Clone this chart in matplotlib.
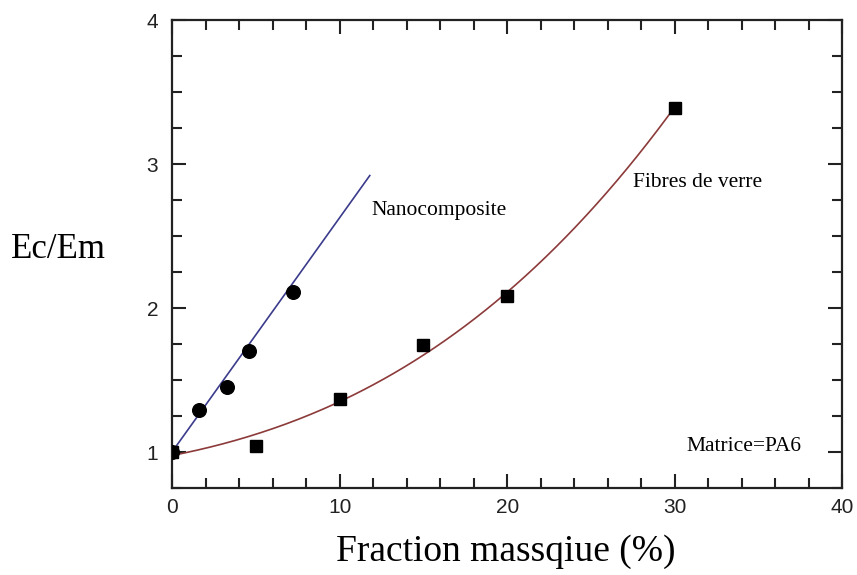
import numpy as np
import matplotlib
matplotlib.use("Agg")
import matplotlib.pyplot as plt
from matplotlib.ticker import MultipleLocator

# Nanocomposite (clay) measurements
nano_x = [0.0, 1.6, 3.3, 4.6, 7.2]
nano_y = [1.0, 1.29, 1.45, 1.70, 2.11]

# Glass fibre measurements
fibre_x = [0.0, 5.0, 10.0, 15.0, 20.0, 30.0]
fibre_y = [1.0, 1.04, 1.37, 1.74, 2.08, 3.39]

# Linear trend for the nanocomposite
nano_slope = 0.1627
nano_fit_end = 11.8

# Points along the glass-fibre trend curve (smoothed with a cubic)
fibre_curve_x = [0.0, 2.5, 5.0, 10.0, 12.4, 20.0, 25.5, 27.5, 30.0]
fibre_curve_y = [0.99, 1.03, 1.10, 1.36, 1.52, 2.08, 2.75, 3.03, 3.39]

fig = plt.figure(figsize=(8.57, 5.75), dpi=100)
ax = fig.add_axes([0.2007, 0.1513, 0.983 - 0.2007, 0.9652 - 0.1513])

xl = np.linspace(0, nano_fit_end, 50)
ax.plot(xl, 1.0 + nano_slope * xl, color="#3b3b8c", lw=1.2, zorder=2)
coeffs = np.polyfit(fibre_curve_x, fibre_curve_y, 3)
xf = np.linspace(0, 30, 200)
ax.plot(xf, np.polyval(coeffs, xf), color="#8c3a3a", lw=1.2, zorder=2)

ax.plot(fibre_x, fibre_y, "s", color="black", ms=8.3, zorder=3)
ax.plot(nano_x, nano_y, "o", color="black", ms=9.8, zorder=4)

ax.set_xlim(0, 40)
ax.set_ylim(0.75, 4)
ax.xaxis.set_major_locator(MultipleLocator(10))
ax.xaxis.set_minor_locator(MultipleLocator(2))
ax.yaxis.set_major_locator(MultipleLocator(1))
ax.yaxis.set_minor_locator(MultipleLocator(0.25))
ax.tick_params(which="both", direction="in", top=True, right=True, width=1.5, colors="#222222")
ax.tick_params(which="major", length=10, labelsize=15)
ax.tick_params(axis="x", which="major", pad=7)
ax.tick_params(axis="y", which="major", pad=10)
ax.tick_params(which="minor", length=7)
for lab in ax.get_xticklabels() + ax.get_yticklabels():
    lab.set_family("Liberation Sans")
for sp in ax.spines.values():
    sp.set_linewidth(1.6)
    sp.set_color("#222222")

serif = "Liberation Serif"
ax.text(11.9, 2.68, "Nanocomposite", family=serif, fontsize=15.5, va="center", ha="left")
ax.text(27.5, 2.87, "Fibres de verre", family=serif, fontsize=15.5, va="center", ha="left")
ax.text(30.7, 1.04, "Matrice=PA6", family=serif, fontsize=15.5, va="center", ha="left")

fig.text(58 / 857, 1 - 250 / 575, "Ec/Em", family=serif, fontsize=25, ha="center", va="center")
fig.text(506 / 857, 1 - 552 / 575, "Fraction massqiue (%)", family=serif, fontsize=27, ha="center", va="center")

fig.savefig("out.png", dpi=100)
